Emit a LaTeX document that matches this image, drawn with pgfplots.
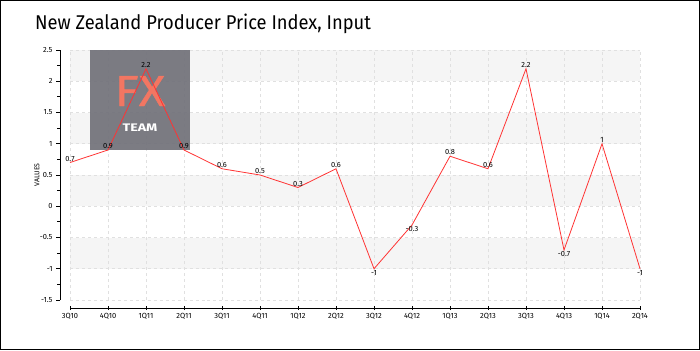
\documentclass[border=0pt]{standalone}
\usepackage{pgfplots}
\usepackage{pgfplotstable}
\pgfplotsset{compat=1.18}
\usepackage{fontspec}
\setmainfont{Fira Sans}
\definecolor{linered}{RGB}{255,51,51}
\definecolor{band}{RGB}{245,245,245}
\definecolor{wm}{RGB}{114,114,122}
\definecolor{wmfx}{RGB}{242,118,98}
\pgfplotstableread{
x y lab
0 0.7 0.7
1 0.9 0.9
2 2.2 2.2
3 0.9 0.9
4 0.6 0.6
5 0.5 0.5
6 0.3 0.3
7 0.6 0.6
10 0.8 0.8
11 0.6 0.6
12 2.2 2.2
14 1 1
}\pos
\pgfplotstableread{
x y lab
8 -1 -1
9 -0.3 -0.3
13 -0.7 -0.7
15 -1 -1
}\negs
\pgfplotstableread{
x y
0 0.7
1 0.9
2 2.2
3 0.9
4 0.6
5 0.5
6 0.3
7 0.6
8 -1
9 -0.3
10 0.8
11 0.6
12 2.2
13 -0.7
14 1
15 -1
}\data
\begin{document}
\begin{tikzpicture}[x=1bp,y=1bp]
\draw[black, line width=1bp] (0.5,0.5) rectangle (699.5,349.5);
\node[anchor=base west, font=\fontsize{20}{22}\selectfont, inner sep=0pt] at (35,321) {\scalebox{0.92}[1]{New Zealand Producer Price Index, Input}};
\begin{axis}[
  set layers,
  at={(70bp,50bp)}, anchor=south west,
  scale only axis, width=570bp, height=250bp,
  xmin=0, xmax=15, ymin=-1.5, ymax=2.5,
  axis x line*=bottom, axis y line*=left,
  x axis line style={yshift=-8bp, -, line width=0.8bp},
  y axis line style={xshift=-10bp, -, line width=0.8bp},
  xtick={0,...,15},
  xticklabels={3Q10,4Q10,1Q11,2Q11,3Q11,4Q11,1Q12,2Q12,3Q12,4Q12,1Q13,2Q13,3Q13,4Q13,1Q14,2Q14},
  ytick={-1.5,-1,...,2.5},
  minor ytick={-1.25,-0.75,...,2.25},
  xtick style={yshift=-8bp, black, line width=0.8bp},
  ytick style={xshift=-10bp, black, line width=0.8bp},
  minor tick style={red},
  x tick label style={yshift=-8bp},
  y tick label style={xshift=-10bp},
  tick align=outside,
  major tick length=4bp, minor tick length=3bp,
  xtick align=center,
  ticklabel style={font=\fontsize{7.5}{8}\selectfont},
  /pgf/number format/assume math mode=true,
  /pgf/number format/fixed,
  grid=major,
  major grid style={dashed, black!12, line width=0.7bp},
  ylabel={VALUES},
  ylabel style={font=\fontsize{7}{8}\selectfont, at={(axis description cs:-0.058,0.5)}, anchor=center},
  clip=false,
]
\begin{pgfonlayer}{axis background}
\fill[band] (axis cs:0,2) rectangle (axis cs:15,2.5);
\fill[band] (axis cs:0,1) rectangle (axis cs:15,1.5);
\fill[band] (axis cs:0,0) rectangle (axis cs:15,0.5);
\fill[band] (axis cs:0,-1) rectangle (axis cs:15,-0.5);
\end{pgfonlayer}
\fill[wm, fill opacity=0.93] (axis cs:0.526,2.5) rectangle (axis cs:3.158,0.9);
\node[text=wmfx, font=\fontsize{38}{38}\selectfont\addfontfeature{FakeBold=1}, inner sep=0pt, text depth=0pt, anchor=base] at (axis cs:1.842,1.604) {\scalebox{1.3}[1.15]{FX}};
\node[text=white, font=\bfseries\fontsize{11}{11}\selectfont, inner sep=0pt, text depth=0pt, anchor=base] at (axis cs:1.842,1.204) {\scalebox{1.3}[1]{TEAM}};
\addplot[linered, line width=0.8bp, mark=none] table[x=x,y=y] {\data};
\addplot[draw=none, mark=none, nodes near coords, point meta=explicit symbolic,
  every node near coord/.append style={font=\fontsize{7.5}{8}\selectfont, anchor=south, inner sep=1.2bp}]
  table[x=x,y=y,meta=lab] {\pos};
\addplot[draw=none, mark=none, nodes near coords, point meta=explicit symbolic,
  every node near coord/.append style={font=\fontsize{7.5}{8}\selectfont, anchor=north, inner sep=1.2bp}]
  table[x=x,y=y,meta=lab] {\negs};
\end{axis}
\end{tikzpicture}
\end{document}
